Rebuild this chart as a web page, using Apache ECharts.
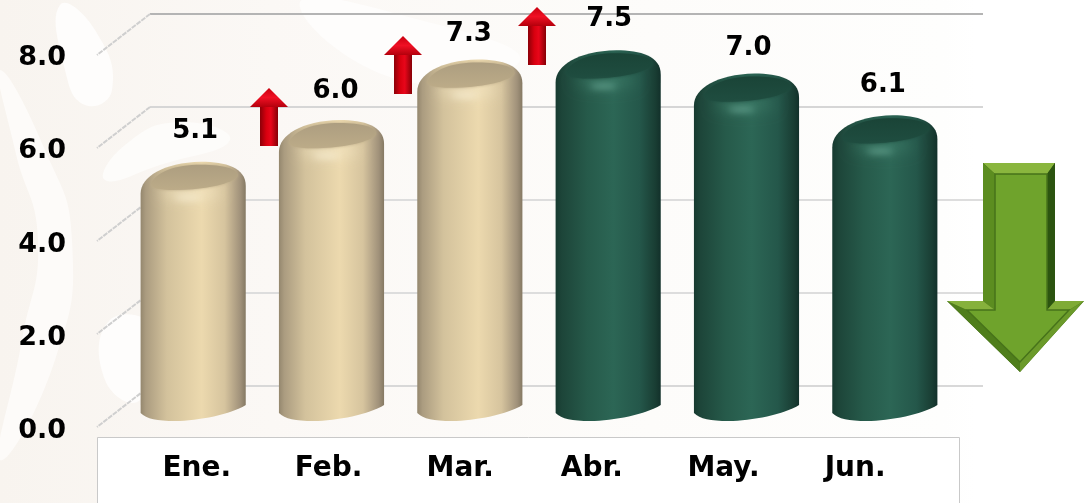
<!DOCTYPE html>
<html>
<head>
<meta charset="utf-8">
<style>html,body{margin:0;padding:0;background:#fff}#c{width:1084px;height:503px}</style>
<script src="https://cdn.jsdelivr.net/npm/echarts@6/dist/echarts.min.js"></script>
</head>
<body>
<div id="c"></div>
<script>
const months = ['Ene.', 'Feb.', 'Mar.', 'Abr.', 'May.', 'Jun.'];
const values = [5.1, 6.0, 7.3, 7.5, 7.0, 6.1];
const tanMonths = 3;
const yTicks = [0, 2, 4, 6, 8];
const FONT = '"DejaVu Sans"';
// hand-placed label nudges of the original slide
const labelLift = [31, 29, 25, 31, 25, 30];
const labelShift = [2, 4, -1, 1, 2, -2];

const G = echarts.graphic;
const hGrad = (stops) => new G.LinearGradient(0, 0, 1, 0, stops.map((c) => ({offset: c[0], color: c[1]})));
const vGrad = (stops) => new G.LinearGradient(0, 0, 0, 1, stops.map((c) => ({offset: c[0], color: c[1]})));
const palettes = {
  tan: {
    body: [[0, '#94876e'], [0.05, '#ab9c80'], [0.25, '#d3c29c'], [0.58, '#ecd9ae'], [0.8, '#d6c49e'], [0.95, '#a0917a'], [1, '#857963']],
    cap: ['#ad9e80', '#bcab88'], rim: 'rgba(246,233,200,0.8)', glow: 'rgba(252,244,220,1)'
  },
  green: {
    body: [[0, '#173a30'], [0.06, '#1d4539'], [0.3, '#265a4a'], [0.55, '#2c6655'], [0.8, '#24574a'], [0.95, '#193d33'], [1, '#12302a']],
    cap: ['#1a4437', '#1f4d40'], rim: 'rgba(64,128,108,0.8)', glow: 'rgba(125,190,170,1)'
  }
};
const OFF = 3000;
// a soft blurred blob: the ellipse itself sits off-canvas, only its shadow shows
const blob = (cx, cy, rx, ry, blur, color) => ({type: 'ellipse', shape: {cx: cx - OFF, cy, rx, ry},
  style: {fill: color, shadowBlur: blur, shadowColor: color, shadowOffsetX: OFF}});

function renderCylinder(params, api) {
  const i = api.value(0), v = api.value(1);
  const top = api.coord([i, v]);
  const base = api.coord([i, 0]);
  const cx = top[0], t = top[1], b = base[1] + 22;
  const hw = api.size([1, 0])[0] * 0.38;
  const L = cx - hw, R = cx + hw;
  const pal = i < tanMonths ? palettes.tan : palettes.green;
  const body = `M${L} ${t + 32} C${L} ${t + 15} ${cx - 30} ${t + 1} ${cx + 8} ${t} ` +
    `C${R - 20} ${t} ${R} ${t + 6} ${R} ${t + 24} L${R} ${b - 16} ` +
    `C${R - 14} ${b - 7} ${cx + 5} ${b} ${cx - 18} ${b} C${cx - 36} ${b} ${L + 6} ${b - 2} ${L} ${b - 8} Z`;
  const cap = `M${L + 10} ${t + 22} C${L + 16} ${t + 10} ${cx - 18} ${t + 3} ${cx + 8} ${t + 3} ` +
    `C${R - 22} ${t + 3} ${R - 8} ${t + 7} ${R - 8} ${t + 14} C${R - 12} ${t + 22} ${cx + 12} ${t + 27} ${cx - 8} ${t + 28} ` +
    `C${L + 20} ${t + 29} ${L + 10} ${t + 27} ${L + 10} ${t + 22} Z`;
  return {
    type: 'group',
    children: [
      {type: 'path', shape: {pathData: body}, style: {fill: hGrad(pal.body)}},
      blob(cx - 2, t + 31, hw - 22, 6, 14, pal.rim),
      {type: 'path', shape: {pathData: cap}, style: {fill: vGrad([[0, pal.cap[0]], [1, pal.cap[1]]]), shadowBlur: 3, shadowColor: pal.cap[1]}},
      blob(cx - 5, t + 36, 14, 1.5, 7, pal.glow),
      {type: 'text', x: cx + labelShift[i], y: t - labelLift[i], style: {text: v.toFixed(1), font: `700 26px ${FONT}`, fill: '#000', textAlign: 'center', textVerticalAlign: 'middle'}}
    ]
  };
}

function renderDiagonal(params, api) {
  const p = api.coord([0, api.value(0)]);
  return {type: 'line', shape: {x1: p[0], y1: p[1], x2: p[0] - 53, y2: p[1] + 41}, style: {stroke: '#cfcfcf', lineWidth: 2, lineDash: [5, 1]}};
}

function redArrow(x, y) {
  return [
    {type: 'polygon', z: 50, shape: {points: [[x - 9, y + 17], [x + 9, y + 17], [x + 9, y + 58], [x - 9, y + 58]]},
      style: {fill: hGrad([[0, '#8c0008'], [0.35, '#d8000f'], [0.6, '#e8061a'], [1, '#860006']])}},
    {type: 'polygon', z: 51, shape: {points: [[x, y], [x + 19, y + 19], [x - 19, y + 19]]},
      style: {fill: vGrad([[0, '#c8000f'], [0.5, '#f01024'], [1, '#b4000c']])}}
  ];
}

function greenArrow() {
  const outer = [[983, 163], [1055, 163], [1055, 301], [1084, 301], [1020, 372], [947, 301], [983, 301]];
  const inner = [[995, 174], [1047, 174], [1047, 310], [1069, 310], [1020, 362], [967, 310], [995, 310]];
  const face = (pts, fill) => ({type: 'polygon', z: 52, shape: {points: pts}, style: {fill}});
  return [
    {type: 'polygon', z: 51, shape: {points: outer}, style: {fill: '#365f12'}},
    face([[983, 163], [1055, 163], [1047, 174], [995, 174]], '#8ab63e'),
    face([[983, 163], [995, 174], [995, 310], [983, 301]], '#5c8d20'),
    face([[1055, 163], [1047, 174], [1047, 310], [1055, 301]], '#2c5410'),
    face([[947, 301], [967, 310], [1020, 362], [1020, 372]], '#4f7e1b'),
    face([[1084, 301], [1069, 310], [1020, 362], [1020, 372]], '#6b9a2a'),
    face([[947, 301], [983, 301], [995, 310], [967, 310]], '#86b13c'),
    face([[1055, 301], [1084, 301], [1069, 310], [1047, 310]], '#7fab36'),
    {type: 'polygon', z: 53, shape: {points: inner}, style: {fill: '#6fa32c', stroke: '#47731a', lineWidth: 1.5}}
  ];
}

const swirl = (pts, fill) => ({type: 'polygon', z: -8, shape: {points: pts, smooth: 0.5}, style: {fill}});
const backdrop = [
  {type: 'rect', z: -10, shape: {x: 0, y: 0, width: 1084, height: 503},
    style: {fill: hGrad([[0, '#f8f4ef'], [0.25, '#fbf8f5'], [0.6, '#fdfcfa'], [0.87, '#fefefd'], [0.9, '#ffffff'], [1, '#ffffff']])}},
  swirl([[60, 5], [95, 30], [112, 90], [85, 105], [65, 70]], '#fefdfc'),
  swirl([[0, 70], [45, 150], [72, 240], [55, 360], [0, 460], [22, 340], [38, 240], [15, 150]], '#fdfbf9'),
  swirl([[105, 180], [160, 165], [230, 140], [180, 122], [125, 145]], '#fdfcfa'),
  swirl([[300, 2], [400, 80], [520, 60], [420, 20]], '#fefdfc'),
  swirl([[110, 320], [155, 330], [140, 400], [105, 380]], '#fefdfc'),
  {type: 'rect', z: -5, shape: {x: 97.5, y: 437.5, width: 862, height: 70},
    style: {fill: '#ffffff', stroke: '#c9c9c9', lineWidth: 1}}
];

const chart = echarts.init(document.getElementById('c'), null, {renderer: 'canvas'});
chart.setOption({
  animation: false,
  backgroundColor: 'transparent',
  grid: [
    {left: 131, width: 790, top: 58, height: 373},
    {left: 150, width: 833, top: 14, height: 372},
    {left: 124, width: 830, top: 27, height: 372}
  ],
  xAxis: [
    {gridIndex: 0, type: 'category', data: months, axisLine: {show: false}, axisTick: {show: false},
      axisLabel: {margin: 24, color: '#000', fontFamily: FONT, fontWeight: 700, fontSize: 28}},
    {gridIndex: 1, type: 'value', min: 0, max: 1, show: false},
    {gridIndex: 2, type: 'category', data: months, show: false}
  ],
  yAxis: [
    {gridIndex: 0, type: 'value', min: 0, max: 8, interval: 2, axisLine: {show: false}, axisTick: {show: false}, splitLine: {show: false},
      axisLabel: {margin: 65, color: '#000', fontFamily: FONT, fontWeight: 700, fontSize: 27, formatter: (v) => v.toFixed(1)}},
    {gridIndex: 1, type: 'value', min: 0, max: 8, interval: 2, axisLine: {show: false}, axisTick: {show: false}, axisLabel: {show: false},
      splitLine: {show: true, lineStyle: {width: 2, color: ['#d8d8d8', '#dddddd', '#dddddd', '#d6d6d6', '#b4b4b4']}}},
    {gridIndex: 2, type: 'value', min: 0, max: 8, show: false}
  ],
  series: [
    {type: 'custom', xAxisIndex: 1, yAxisIndex: 1, data: yTicks.map((t) => [t]), encode: {y: 0}, renderItem: renderDiagonal, silent: true, z: 1},
    {type: 'custom', xAxisIndex: 2, yAxisIndex: 2, data: values.map((v, i) => [i, v]), encode: {x: 0, y: 1}, renderItem: renderCylinder, silent: true, z: 5}
  ],
  graphic: [...backdrop, ...redArrow(269, 88), ...redArrow(403, 36), ...redArrow(537, 7), ...greenArrow()]
});
</script>
</body>
</html>
